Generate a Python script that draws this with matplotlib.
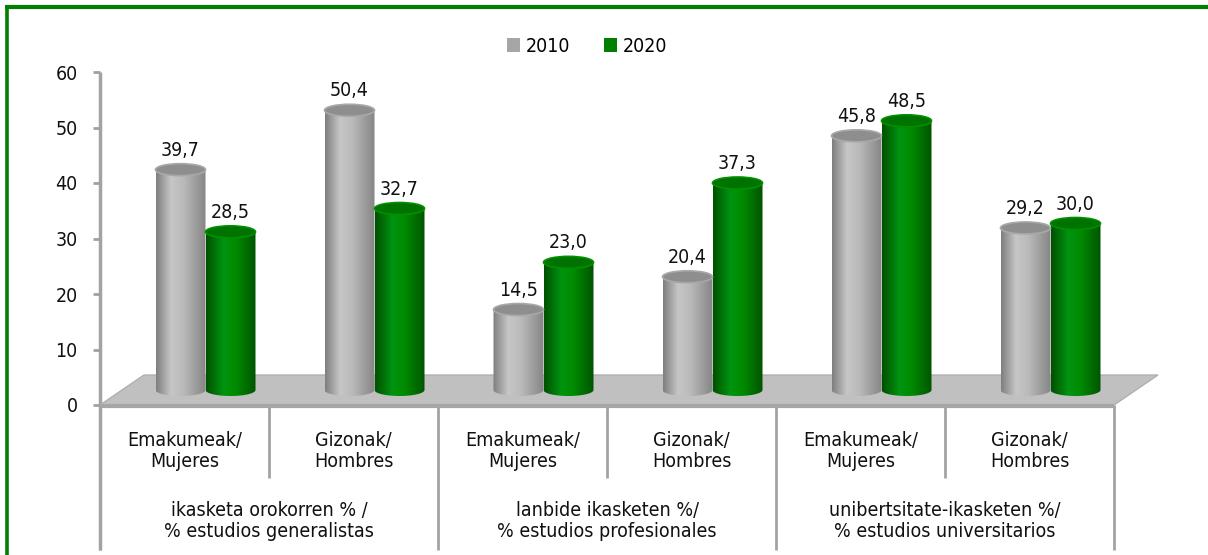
import numpy as np
import matplotlib
matplotlib.use("Agg")
import matplotlib.pyplot as plt
from matplotlib.patches import Polygon, Ellipse, PathPatch, Patch
from matplotlib.path import Path
from matplotlib.colors import LinearSegmentedColormap
from matplotlib.lines import Line2D
from matplotlib import font_manager

# ---------------- data ----------------
sub_labels = ["Emakumeak/\nMujeres", "Gizonak/\nHombres",
              "Emakumeak/\nMujeres", "Gizonak/\nHombres",
              "Emakumeak/\nMujeres", "Gizonak/\nHombres"]
group_labels = ["ikasketa orokorren % /\n% estudios generalistas",
                "lanbide ikasketen %/\n% estudios profesionales",
                "unibertsitate-ikasketen %/\n% estudios universitarios"]
series_names = ["2010", "2020"]
values_2010 = [39.7, 50.4, 14.5, 20.4, 45.8, 29.2]
values_2020 = [28.5, 32.7, 23.0, 37.3, 48.5, 30.0]
yticks = [0, 10, 20, 30, 40, 50, 60]

plt.rcParams["font.family"] = ["DejaVu Sans"]
plt.rcParams["font.stretch"] = "condensed"
FS = 14

W, H = 1208, 555
fig = plt.figure(figsize=(W / 100, H / 100), dpi=100)
fig.patch.set_facecolor("white")

# axes occupying the plot area: x 100..1114 px, y 72..405 px
ax = fig.add_axes([100 / W, 1 - 405 / H, 1014 / W, 333 / H])
ax.set_xlim(-0.5, 5.5)
ax.set_ylim(0, 60)
ax.set_facecolor("none")
for s in ax.spines.values():
    s.set_visible(False)

px_x = 6.0 / 1014.0      # data units per pixel (x)
px_y = 60.0 / 333.0      # data units per pixel (y)

# y axis line and ticks
ax.set_yticks(yticks)
ax.set_yticklabels([str(t) for t in yticks], fontsize=FS, color="#111111")
ax.tick_params(axis="y", length=5, width=2, color="#a0a0a0", pad=11)
ax.set_xticks([])
axis_col = "#a3a3a3"
ax.plot([-0.5, -0.5], [60, -145 * px_y], color=axis_col, lw=2.5,
        clip_on=False, zorder=1, solid_capstyle="butt")

# floor (3D base)
depth_dx = 44 * px_x
depth_dy = 30 * px_y
floor = Polygon([(-0.5, 0), (-0.5 + depth_dx, depth_dy),
                 (5.5 + depth_dx, depth_dy), (5.5, 0)],
                closed=True, facecolor="#c0c0c0", edgecolor="#b0b0b0",
                lw=1, clip_on=False, zorder=2)
ax.add_patch(floor)
ax.plot([-0.5, 5.5], [-0.15, -0.15], color="#a6a6a6", lw=3, clip_on=False,
        zorder=3, solid_capstyle="butt")

# table lines below
n = len(sub_labels)
for k in range(n + 1):
    xb = -0.5 + k
    bottom = -145 * px_y if k % 2 == 0 else -73 * px_y
    ax.plot([xb, xb], [0, bottom], color=axis_col, lw=2, clip_on=False,
            zorder=1, solid_capstyle="butt")

for i, lab in enumerate(sub_labels):
    ax.text(i, -46 * px_y, lab, ha="center", va="center", fontsize=FS,
            linespacing=1.15, color="#111111", clip_on=False)
for g, lab in enumerate(group_labels):
    ax.text(2 * g + 0.5, -116 * px_y, lab, ha="center", va="center",
            fontsize=FS, linespacing=1.15, color="#111111", clip_on=False)

# cylinders
bar_w = 50 * px_x
off_x = 21 * px_x
off_y = 15 * px_y
eh = 12 * px_y

gray_cmap = LinearSegmentedColormap.from_list(
    "g", [(0, "#7e7e7e"), (0.3, "#c6c6c6"), (0.55, "#bababa"), (1, "#858585")])
green_cmap = LinearSegmentedColormap.from_list(
    "gr", [(0, "#005000"), (0.35, "#009410"), (0.6, "#008a00"), (1, "#005400")])
top_cols = ["#8e8e8e", "#007200"]
rim_cols = ["#a8a8a8", "#009000"]
legend_cols = ["#a6a6a6", "#008000"]

grad = np.linspace(0, 1, 256).reshape(1, -1)


def cylinder(xc, val, cmap, topc, rimc):
    x0, x1 = xc - bar_w / 2, xc + bar_w / 2
    yb = off_y
    yt = val + off_y
    th = np.linspace(np.pi, 2 * np.pi, 40)
    arc = [(xc + bar_w / 2 * np.cos(t), yb + eh / 2 * np.sin(t)) for t in th]
    verts = [(x0, yt)] + arc + [(x1, yt), (x0, yt)]
    codes = [Path.MOVETO] + [Path.LINETO] * (len(verts) - 2) + [Path.CLOSEPOLY]
    clip = PathPatch(Path(verts, codes), facecolor="none", edgecolor="none",
                     transform=ax.transData)
    ax.add_patch(clip)
    im = ax.imshow(grad, cmap=cmap, aspect="auto",
                   extent=(x0, x1, yb - eh / 2, yt), zorder=5,
                   interpolation="bilinear")
    im.set_clip_path(clip)
    ax.add_patch(Ellipse((xc, yt), bar_w, eh, facecolor=topc,
                         edgecolor=rimc, lw=1.2, zorder=6, clip_on=False))
    ax.text(xc, yt + eh / 2 + 8 * px_y, f"{val:.1f}".replace(".", ","),
            ha="center", va="baseline", fontsize=FS, color="#111111",
            zorder=7, clip_on=False)


for i in range(n):
    cylinder(i + off_x - bar_w / 2, values_2010[i], gray_cmap, top_cols[0], rim_cols[0])
    cylinder(i + off_x + bar_w / 2, values_2020[i], green_cmap, top_cols[1], rim_cols[1])

ax.set_xlim(-0.5, 5.5)
ax.set_ylim(0, 60)

# legend
handles = [Patch(facecolor=legend_cols[0], edgecolor="none"),
           Patch(facecolor=legend_cols[1], edgecolor="none")]
fig.legend(handles, series_names, loc="center", ncol=2,
           bbox_to_anchor=(587 / W, 1 - 46 / H), frameon=False,
           fontsize=FS, handlelength=0.7, handleheight=0.7,
           handletextpad=0.3, columnspacing=1.7)

# green frame (left and top)
fig.add_artist(Line2D([6.5 / W, 6.5 / W], [0, 1 - 5 / H], color="#008000",
                      lw=2.6, transform=fig.transFigure, solid_capstyle="butt"))
fig.add_artist(Line2D([5 / W, 1], [1 - 7 / H, 1 - 7 / H], color="#008000",
                      lw=3.0, transform=fig.transFigure, solid_capstyle="butt"))

fig.savefig("out.png", dpi=100, facecolor="white")
